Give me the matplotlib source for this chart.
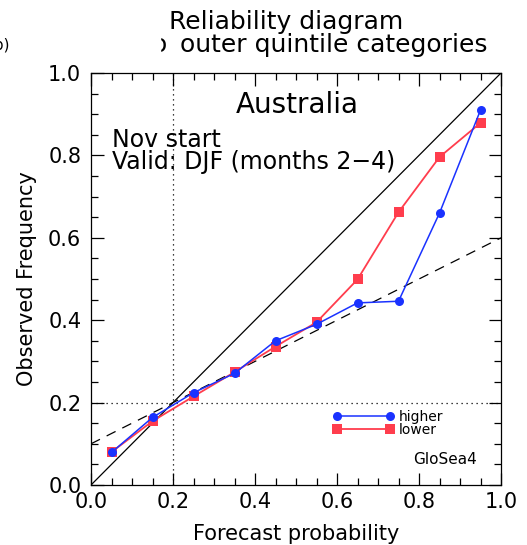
import matplotlib
matplotlib.use("Agg")
import matplotlib.pyplot as plt
from matplotlib.ticker import MultipleLocator, FormatStrFormatter
import matplotlib.patches as mpatches

# Data
prob_bins = [0.05, 0.15, 0.25, 0.35, 0.45, 0.55, 0.65, 0.75, 0.85, 0.95]
higher_freq = [0.079, 0.164, 0.224, 0.271, 0.350, 0.390, 0.442, 0.446, 0.660, 0.910]
lower_freq = [0.080, 0.155, 0.215, 0.274, 0.336, 0.395, 0.499, 0.662, 0.796, 0.879]
diag_x = [0.0, 1.0]
diag_y = [0.0, 1.0]
noskill_x = [0.0, 1.0]
noskill_y = [0.10, 0.60]
clim_freq = 0.2

plt.rcParams['font.family'] = ['DejaVu Sans']
fig = plt.figure(figsize=(5.27, 5.45), dpi=100)
ax = fig.add_axes([91/527, 60/545, 410/527, 412/545])

ax.plot(diag_x, diag_y, color='black', lw=0.9)
ax.plot(noskill_x, noskill_y, color='black', lw=0.9, ls=(0, (8, 6)))
ax.axvline(clim_freq, color='black', lw=0.9, ls=(0, (1, 3)))
ax.axhline(clim_freq, color='black', lw=0.9, ls=(0, (1, 3)))

ax.plot(prob_bins, higher_freq, color='#1a32ff', lw=1.1, marker='o', ms=6.5,
        markeredgewidth=0, label='higher', zorder=4)
ax.plot(prob_bins, lower_freq, color='#ff3d4d', lw=1.3, marker='s', ms=7.5,
        markeredgewidth=0, label='lower', zorder=3)

ax.set_xlim(0, 1)
ax.set_ylim(0, 1)
ax.xaxis.set_major_locator(MultipleLocator(0.2))
ax.yaxis.set_major_locator(MultipleLocator(0.2))
ax.xaxis.set_minor_locator(MultipleLocator(0.05))
ax.yaxis.set_minor_locator(MultipleLocator(0.05))
ax.tick_params(which='both', direction='in', top=True, right=True, width=0.9)
ax.tick_params(which='major', length=9, labelsize=15)
ax.tick_params(axis='x', which='major', pad=5)
ax.tick_params(axis='y', which='major', pad=7)
ax.tick_params(which='minor', length=5)
ax.xaxis.set_major_formatter(FormatStrFormatter('%.1f'))
ax.yaxis.set_major_formatter(FormatStrFormatter('%.1f'))
for s in ax.spines.values():
    s.set_linewidth(0.9)

ax.set_xlabel('Forecast probability', fontsize=15, labelpad=9)
ax.set_ylabel('Observed Frequency', fontsize=15, labelpad=8)

ax.text((297 - 91)/410, (485 - 105)/412, 'Australia', transform=ax.transAxes,
        ha='center', va='center', fontsize=20)
ax.text((112 - 91)/410, (485 - 140)/412, 'Nov start', transform=ax.transAxes,
        ha='left', va='center', fontsize=17)
ax.text((112 - 91)/410, (485 - 162)/412, 'Valid: DJF (months 2\u22124)', transform=ax.transAxes,
        ha='left', va='center', fontsize=17)
ax.text((445 - 91)/410, (485 - 459)/412, 'GloSea4', transform=ax.transAxes,
        ha='center', va='center', fontsize=11)

leg = ax.legend(loc='upper left', bbox_to_anchor=((333 - 91)/410, (485 - 410)/412),
                frameon=False, numpoints=2, handlelength=4.4, fontsize=10,
                labelspacing=-0.1, handletextpad=0.3, borderpad=0, borderaxespad=0)

fig.text(286/527, 1 - 22/545, 'Reliability diagram', ha='center', va='center', fontsize=18)
fig.text(180/527, 1 - 45/545, 'outer quintile categories', ha='left', va='center', fontsize=18)
fig.text(167/527, 1 - 45/545, 'o', ha='right', va='center', fontsize=18)
fig.patches.append(mpatches.Rectangle((26/527, 1 - 62/545), (160 - 26)/527, 34/545,
                                      transform=fig.transFigure, color='white', zorder=10))
fig.text(10/527, 1 - 45/545, '(b)', ha='right', va='center', fontsize=11)

fig.savefig('out.png', dpi=100)
